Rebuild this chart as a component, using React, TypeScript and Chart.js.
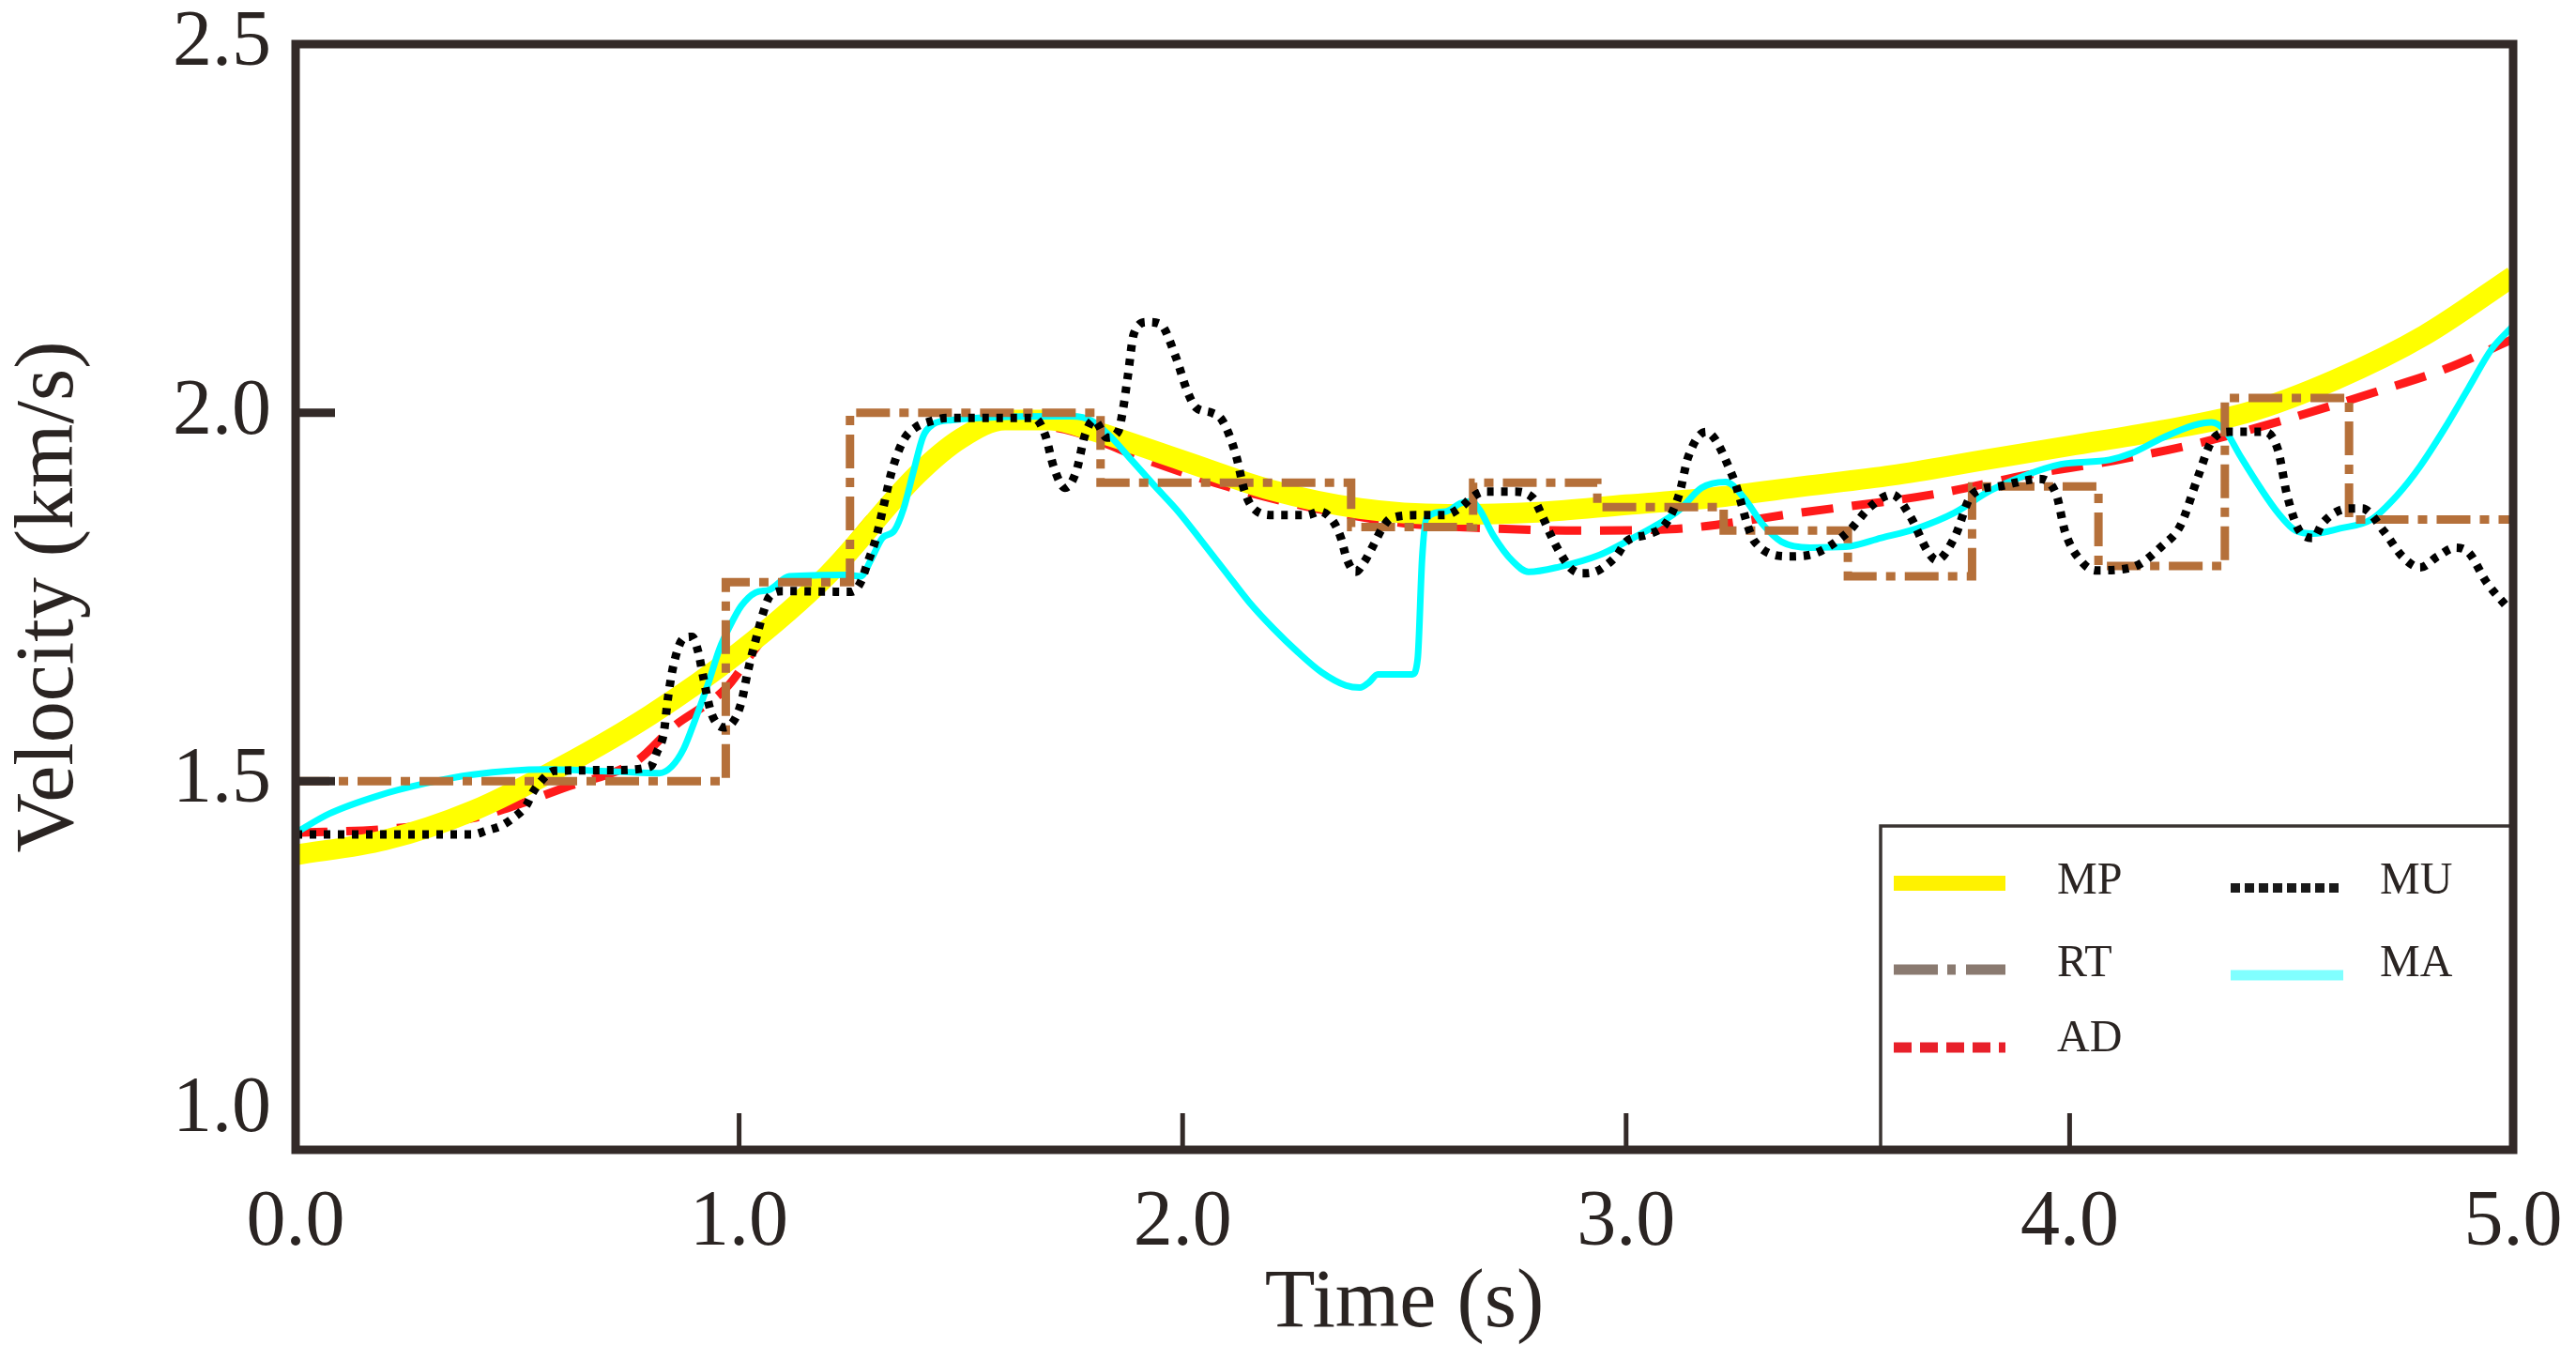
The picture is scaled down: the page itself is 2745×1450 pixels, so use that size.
import React, { useEffect, useRef } from 'react';
import { Chart, registerables } from 'chart.js';

Chart.register(...registerables);

// ---------------- data ----------------
const X_TICK_VALUES = [0, 1, 2, 3, 4, 5];
const Y_TICK_VALUES = [1.0, 1.5, 2.0, 2.5];
const SERIES_NAMES = ['MP', 'RT', 'AD', 'MU', 'MA'];

const mpTime = [0, 0.2, 0.4, 0.6, 0.8, 1.0, 1.2, 1.4, 1.5, 1.6, 1.7, 1.8, 2.0, 2.2, 2.4, 2.6, 2.8, 3.0, 3.2, 3.4, 3.6, 3.8, 4.0, 4.2, 4.4, 4.6, 4.8, 5.0];
const mpVel = [1.40, 1.42, 1.46, 1.52, 1.59, 1.675, 1.78, 1.915, 1.965, 1.99, 1.99, 1.975, 1.935, 1.895, 1.87, 1.862, 1.865, 1.875, 1.885, 1.90, 1.915, 1.935, 1.955, 1.975, 2.0, 2.045, 2.105, 2.185];

const rtTime = [0, 0.97, 1.25, 1.815, 2.38, 2.655, 2.935, 3.22, 3.50, 3.78, 4.065, 4.35, 4.63, 5.0];
const rtVel = [1.5, 1.77, 2.0, 1.905, 1.845, 1.905, 1.872, 1.84, 1.778, 1.9, 1.792, 2.02, 1.855, 1.855];

const adTime = [0, 0.2, 0.4, 0.5, 0.6, 0.77, 0.85, 0.97, 1.05, 1.15, 1.3, 1.45, 1.6, 1.75, 1.9, 2.1, 2.3, 2.5, 2.7, 2.9, 3.1, 3.4, 3.7, 3.9, 4.1, 4.3, 4.5, 4.7, 4.85, 5.0];
const adVel = [1.43, 1.435, 1.45, 1.468, 1.49, 1.528, 1.573, 1.626, 1.69, 1.75, 1.86, 1.95, 1.985, 1.975, 1.94, 1.9, 1.87, 1.85, 1.843, 1.84, 1.842, 1.865, 1.89, 1.915, 1.935, 1.96, 1.993, 2.03, 2.06, 2.1];

const muTime = [0.0, 0.2, 0.4, 0.43, 0.465, 0.49, 0.52, 0.535, 0.556, 0.583, 0.72, 0.80, 0.815, 0.83, 0.84, 0.853, 0.875, 0.894, 0.908, 0.918, 0.935, 0.95, 0.966, 0.988, 1.005, 1.02, 1.043, 1.054, 1.069, 1.10, 1.253, 1.274, 1.29, 1.307, 1.323, 1.344, 1.371, 1.398, 1.43, 1.47, 1.665, 1.69, 1.71, 1.735, 1.76, 1.78, 1.80, 1.83, 1.855, 1.865, 1.877, 1.89, 1.92, 1.95, 1.985, 2.01, 2.03, 2.065, 2.09, 2.12, 2.14, 2.16, 2.205, 2.28, 2.31, 2.34, 2.357, 2.37, 2.39, 2.41, 2.43, 2.45, 2.47, 2.53, 2.59, 2.63, 2.65, 2.68, 2.745, 2.79, 2.81, 2.83, 2.85, 2.875, 2.90, 2.93, 2.955, 2.98, 3.00, 3.05, 3.09, 3.12, 3.14, 3.18, 3.24, 3.29, 3.37, 3.43, 3.50, 3.55, 3.60, 3.64, 3.68, 3.70, 3.74, 3.78, 3.84, 3.93, 3.97, 3.99, 4.03, 4.06, 4.14, 4.21, 4.25, 4.29, 4.32, 4.36, 4.44, 4.47, 4.49, 4.52, 4.55, 4.57, 4.63, 4.66, 4.71, 4.75, 4.79, 4.83, 4.87, 4.90, 4.94, 4.99];
const muVel = [1.428, 1.428, 1.428, 1.433, 1.44, 1.45, 1.467, 1.485, 1.502, 1.514, 1.515, 1.52, 1.54, 1.565, 1.615, 1.66, 1.694, 1.696, 1.675, 1.645, 1.597, 1.578, 1.573, 1.582, 1.607, 1.65, 1.704, 1.728, 1.751, 1.758, 1.757, 1.77, 1.797, 1.826, 1.866, 1.92, 1.963, 1.98, 1.988, 1.993, 1.993, 1.97, 1.925, 1.898, 1.92, 1.97, 1.99, 1.966, 1.975, 2.002, 2.052, 2.107, 2.123, 2.12, 2.075, 2.03, 2.007, 2.0, 1.989, 1.943, 1.893, 1.87, 1.861, 1.861, 1.866, 1.852, 1.83, 1.802, 1.784, 1.798, 1.82, 1.843, 1.857, 1.861, 1.861, 1.873, 1.884, 1.893, 1.893, 1.884, 1.861, 1.834, 1.811, 1.789, 1.782, 1.784, 1.793, 1.807, 1.825, 1.835, 1.85, 1.89, 1.94, 1.974, 1.914, 1.825, 1.805, 1.81, 1.838, 1.872, 1.889, 1.86, 1.812, 1.80, 1.83, 1.889, 1.90, 1.91, 1.889, 1.838, 1.796, 1.786, 1.79, 1.82, 1.847, 1.914, 1.961, 1.974, 1.974, 1.949, 1.889, 1.838, 1.83, 1.85, 1.87, 1.87, 1.838, 1.805, 1.79, 1.805, 1.817, 1.81, 1.77, 1.734];

const maTime = [0.0, 0.076, 0.184, 0.292, 0.40, 0.563, 0.724, 0.82, 0.848, 0.875, 0.90, 0.93, 0.956, 0.978, 1.005, 1.037, 1.069, 1.113, 1.242, 1.274, 1.297, 1.323, 1.35, 1.371, 1.393, 1.415, 1.437, 1.48, 1.71, 1.75, 1.795, 1.84, 1.88, 1.935, 1.99, 2.044, 2.097, 2.15, 2.205, 2.26, 2.313, 2.368, 2.40, 2.42, 2.44, 2.518, 2.53, 2.54, 2.55, 2.594, 2.626, 2.65, 2.67, 2.70, 2.745, 2.78, 2.85, 2.94, 3.00, 3.07, 3.12, 3.17, 3.225, 3.265, 3.31, 3.35, 3.415, 3.495, 3.575, 3.656, 3.74, 3.82, 3.90, 3.98, 4.09, 4.14, 4.21, 4.28, 4.32, 4.35, 4.386, 4.43, 4.47, 4.51, 4.55, 4.61, 4.68, 4.74, 4.79, 4.845, 4.90, 4.95, 5.0];
const maVel = [1.43, 1.456, 1.48, 1.497, 1.509, 1.516, 1.513, 1.511, 1.52, 1.544, 1.582, 1.632, 1.68, 1.709, 1.738, 1.756, 1.76, 1.778, 1.78, 1.778, 1.80, 1.83, 1.84, 1.87, 1.92, 1.968, 1.984, 1.99, 1.995, 1.995, 1.989, 1.966, 1.939, 1.902, 1.866, 1.825, 1.784, 1.743, 1.707, 1.675, 1.648, 1.63, 1.627, 1.634, 1.645, 1.645, 1.666, 1.802, 1.857, 1.866, 1.877, 1.88, 1.868, 1.834, 1.798, 1.784, 1.791, 1.807, 1.825, 1.848, 1.868, 1.898, 1.906, 1.885, 1.847, 1.825, 1.817, 1.818, 1.83, 1.843, 1.864, 1.894, 1.915, 1.93, 1.936, 1.945, 1.966, 1.983, 1.987, 1.976, 1.94, 1.898, 1.864, 1.84, 1.836, 1.843, 1.855, 1.889, 1.927, 1.978, 2.034, 2.085, 2.118];

// ---------------- helpers ----------------
const toPoints = (xs: number[], ys: number[]) => xs.map((x, i) => ({ x, y: ys[i] }));
const SERIF = '"Liberation Serif", "Times New Roman", serif';
const INK = '#2a2422';

const legendStyles = [
  { color: '#fff200', width: 16, dash: [] as number[], col: 0, row: 0 },
  { color: '#8a7a70', width: 11, dash: [47, 10, 9, 11], col: 0, row: 1 },
  { color: '#e8202a', width: 11, dash: [19, 9], col: 0, row: 2 },
  { color: '#1a1a1a', width: 10, dash: [10, 5], col: 1, row: 0 },
  { color: '#80ffff', width: 11, dash: [] as number[], col: 1, row: 1 },
];

const framePlugin = {
  id: 'frameAndLegend',
  afterDatasetsDraw(chart: any) {
    const { ctx, chartArea, scales } = chart;
    const { left, right, top, bottom } = chartArea;
    const xs = scales.x;
    const ys = scales.y;
    ctx.save();

    // legend box
    const LW = 674;
    const LH = 345;
    const L = right - LW;
    const T = bottom - LH;
    ctx.fillStyle = '#ffffff';
    ctx.fillRect(L, T, LW, LH);
    ctx.strokeStyle = '#3a3432';
    ctx.lineWidth = 3.5;
    ctx.strokeRect(L, T, LW, LH);

    const colLineX = [[14, 133], [373, 493]];
    const colLabelX = [188, 532];
    const lineY = [[61, 153, 236], [66, 159]];
    const labelY = [59, 147, 227];
    ctx.font = `48px ${SERIF}`;
    ctx.textBaseline = 'middle';
    ctx.textAlign = 'left';
    chart.data.datasets.forEach((ds: any, i: number) => {
      const st = legendStyles[i];
      const y = T + lineY[st.col][st.row];
      ctx.beginPath();
      ctx.setLineDash(st.dash);
      ctx.lineCap = 'butt';
      ctx.strokeStyle = st.color;
      ctx.lineWidth = st.width;
      ctx.moveTo(L + colLineX[st.col][0], y);
      ctx.lineTo(L + colLineX[st.col][1], y);
      ctx.stroke();
      ctx.setLineDash([]);
      ctx.fillStyle = INK;
      ctx.fillText(ds.label, L + colLabelX[st.col], T + labelY[st.row]);
    });

    // inward ticks
    ctx.setLineDash([]);
    ctx.strokeStyle = '#332a28';
    ctx.lineCap = 'butt';
    ctx.lineWidth = 9;
    Y_TICK_VALUES.slice(1, 3).forEach((v) => {
      const py = ys.getPixelForValue(v);
      ctx.beginPath();
      ctx.moveTo(left, py);
      ctx.lineTo(left + 42, py);
      ctx.stroke();
    });
    ctx.lineWidth = 5;
    X_TICK_VALUES.slice(1, 5).forEach((v) => {
      const px = xs.getPixelForValue(v);
      ctx.beginPath();
      ctx.moveTo(px, bottom);
      ctx.lineTo(px, bottom - 39);
      ctx.stroke();
    });

    // frame
    ctx.lineWidth = 9;
    ctx.strokeRect(left, top, right - left, bottom - top);
    ctx.restore();
  },
};

export default function App() {
  const canvasRef = useRef<HTMLCanvasElement | null>(null);

  useEffect(() => {
    document.body.style.margin = '0';
    const canvas = canvasRef.current;
    if (!canvas) return;
    const chart = new Chart(canvas, {
      type: 'line',
      data: {
        datasets: [
          {
            label: SERIES_NAMES[0],
            data: toPoints(mpTime, mpVel),
            borderColor: '#ffff00',
            borderWidth: 22,
            pointRadius: 0,
            cubicInterpolationMode: 'monotone',
            order: 3,
          },
          {
            label: SERIES_NAMES[1],
            data: toPoints(rtTime, rtVel),
            borderColor: '#b5703a',
            borderWidth: 9,
            borderDash: [36, 10, 10, 10],
            stepped: 'before',
            pointRadius: 0,
            order: 1,
          },
          {
            label: SERIES_NAMES[2],
            data: toPoints(adTime, adVel),
            borderColor: '#ff1a1a',
            borderWidth: 9,
            borderDash: [34, 20],
            pointRadius: 0,
            cubicInterpolationMode: 'monotone',
            order: 4,
          },
          {
            label: SERIES_NAMES[3],
            data: toPoints(muTime, muVel),
            borderColor: '#000000',
            borderWidth: 9,
            borderDash: [7, 8],
            pointRadius: 0,
            cubicInterpolationMode: 'monotone',
            order: 0,
          },
          {
            label: SERIES_NAMES[4],
            data: toPoints(maTime, maVel),
            borderColor: '#00ffff',
            borderWidth: 7,
            pointRadius: 0,
            cubicInterpolationMode: 'monotone',
            order: 2,
          },
        ] as any,
      },
      options: {
        animation: false,
        responsive: false,
        devicePixelRatio: 1,
        layout: { padding: { top: 47, right: 67, bottom: 0, left: 0 } },
        plugins: { legend: { display: false }, tooltip: { enabled: false } },
        scales: {
          x: {
            type: 'linear',
            min: X_TICK_VALUES[0],
            max: X_TICK_VALUES[X_TICK_VALUES.length - 1],
            grid: { display: false, drawTicks: false },
            border: { display: false },
            ticks: {
              stepSize: 1,
              padding: 37,
              color: INK,
              maxRotation: 0,
              autoSkip: false,
              font: { family: SERIF, size: 84, lineHeight: 1 },
              callback: (v: any) => Number(v).toFixed(1),
            },
            title: {
              display: true,
              text: 'Time (s)',
              color: INK,
              font: { family: SERIF, size: 88, lineHeight: 1.2 },
              padding: { top: 0, bottom: 7 },
            },
            afterFit: (s: any) => {
              s.height = 225;
              s.paddingLeft = 0;
              s.paddingRight = 0;
            },
          },
          y: {
            type: 'linear',
            min: Y_TICK_VALUES[0],
            max: Y_TICK_VALUES[Y_TICK_VALUES.length - 1],
            grid: { display: false, drawTicks: false },
            border: { display: false },
            ticks: {
              stepSize: 0.5,
              padding: 26,
              color: INK,
              font: { family: SERIF, size: 84, lineHeight: 1 },
              callback: (v: any) => (Number(v) === Y_TICK_VALUES[0] ? [Number(v).toFixed(1), ''] : Number(v).toFixed(1)),
            },
            title: {
              display: true,
              text: 'Velocity (km/s)',
              color: INK,
              font: { family: SERIF, size: 88, lineHeight: 1.2 },
              padding: { top: 1, bottom: 0 },
            },
            afterFit: (s: any) => {
              s.width = 315;
              s.paddingTop = 0;
              s.paddingBottom = 0;
            },
          },
        },
      } as any,
      plugins: [framePlugin],
    });
    return () => chart.destroy();
  }, []);

  return (
    <div style={{ position: 'absolute', left: 0, top: 0, width: 2745, height: 1450, background: '#fff' }}>
      <canvas ref={canvasRef} width={2745} height={1450} style={{ display: 'block' }} />
    </div>
  );
}
